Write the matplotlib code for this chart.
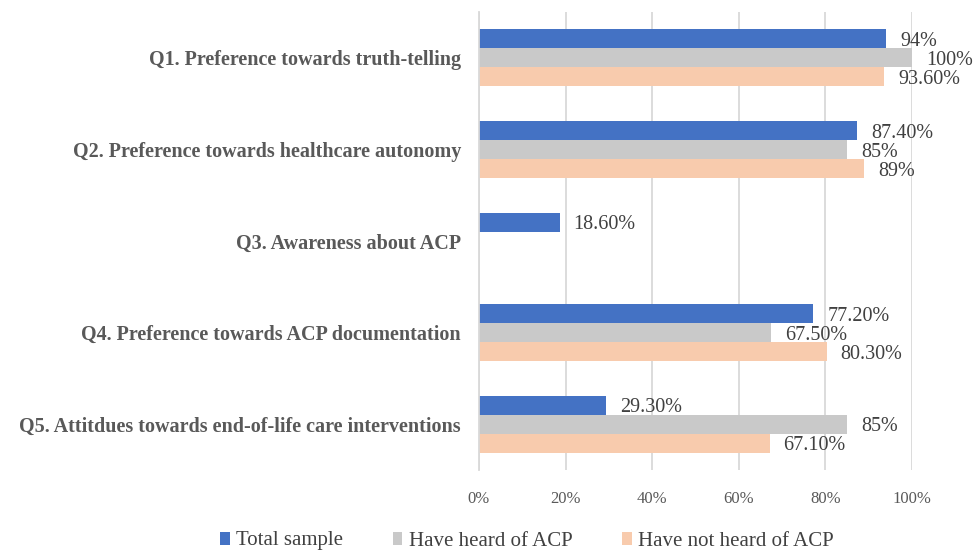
import numpy as np
import matplotlib
matplotlib.use("Agg")
import matplotlib.pyplot as plt
from matplotlib.ticker import FuncFormatter

categories = [
    "Q1. Preference towards truth-telling",
    "Q2. Preference towards healthcare autonomy",
    "Q3. Awareness about ACP",
    "Q4. Preference towards ACP documentation",
    "Q5. Attitdues towards end-of-life care interventions",
]
series_names = ["Total sample", "Have heard of ACP", "Have not heard of ACP"]
total_sample = [94.0, 87.4, 18.6, 77.2, 29.3]
heard_acp = [100.0, 85.0, np.nan, 67.5, 85.0]
not_heard_acp = [93.6, 89.0, np.nan, 80.3, 67.1]
value_labels = [
    ["94%", "87.40%", "18.60%", "77.20%", "29.30%"],
    ["100%", "85%", "", "67.50%", "85%"],
    ["93.60%", "89%", "", "80.30%", "67.10%"],
]

colors = ["#4472C4", "#C9C9C9", "#F8CBAD"]
TEXT = "#404040"

plt.rcParams["font.family"] = ["Liberation Serif", "DejaVu Serif"]

fig = plt.figure(figsize=(9.74, 5.51), dpi=100)
ax = fig.add_axes([479 / 974, 1 - 470 / 551, (912 - 479) / 974, (470 - 12) / 551])

y = np.arange(len(categories))
h = 0.207
for i, (vals, name) in enumerate(zip([total_sample, heard_acp, not_heard_acp], series_names)):
    pos = y + (i - 1) * h
    ax.barh(pos, vals, height=h, color=colors[i], label=name, zorder=2)
    for p, v, lab in zip(pos, vals, value_labels[i]):
        if np.isnan(v):
            continue
        ax.text(v + 3.2, p + 0.03, lab, va="center", ha="left",
                fontsize=14.5, color=TEXT)

ax.set_xlim(0, 100)
ax.set_ylim(len(categories) - 0.5, -0.5)
ax.set_xticks(np.arange(0, 101, 20))
ax.xaxis.set_major_formatter(FuncFormatter(lambda v, _: f"{v:.0f}%"))
ax.set_yticks(y)
ax.set_yticklabels(categories, fontweight="bold", fontsize=14.5, color="#595959")
ax.tick_params(axis="x", length=0, labelsize=12, colors="#595959", pad=15)
ax.tick_params(axis="y", length=0, pad=13)
ax.grid(axis="x", color="#D9D9D9", linewidth=1.3, zorder=0)
for s in ["top", "right", "bottom"]:
    ax.spines[s].set_visible(False)
ax.spines["left"].set_color("#D9D9D9")
ax.spines["left"].set_linewidth(1.3)

fig.legend(loc="center", bbox_to_anchor=(527 / 974, 1 - 541 / 551), ncol=3,
           frameon=False, fontsize=15, handlelength=0.45, handleheight=0.6,
           handletextpad=0.3, columnspacing=2.4, labelcolor=TEXT)

fig.savefig("out.png", dpi=100)
